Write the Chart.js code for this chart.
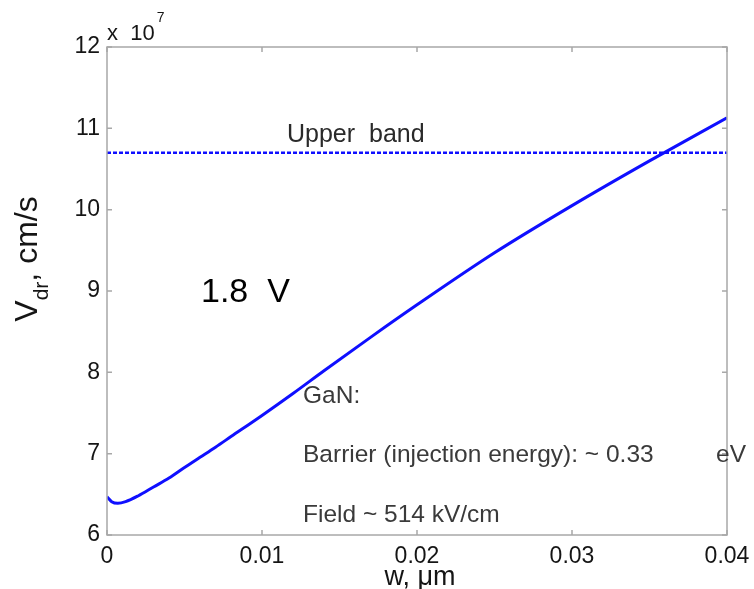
<!DOCTYPE html>
<html>
<head>
<meta charset="utf-8">
<script src="https://cdn.jsdelivr.net/npm/chart.js@4/dist/chart.umd.min.js"></script>
<style>
html,body{margin:0;padding:0;background:#fff;}
#wrap{width:754px;height:589px;position:relative;}
</style>
</head>
<body>
<div id="wrap"><canvas id="c" width="754" height="589"></canvas></div>
<script>
// data (velocity in units of 1e7 cm/s)
const widthUm = [0,0.0003,0.0007,0.0012,0.002,0.003,0.004,0.005,0.006,0.007,0.008,0.010,0.012,0.014,0.017,0.020,0.025,0.030,0.035,0.040];
const vdr = [6.47,6.41,6.39,6.41,6.48,6.59,6.70,6.83,6.955,7.08,7.21,7.47,7.74,8.02,8.43,8.83,9.47,10.05,10.60,11.13];
const upperBand = 10.7;
const bandX = [0,0.04];
const xTickVals = [0,0.01,0.02,0.03,0.04];
const xTickLabels = ["0","0.01","0.02","0.03","0.04"];
const yTickVals = [6,7,8,9,10,11,12];
const yTickLabels = ["6","7","8","9","10","11","12"];

const FONT = "'Liberation Sans', Arial, Helvetica, sans-serif";

const boxPlugin = {
  id:'box',
  afterDraw(chart){
    const {ctx, chartArea:a, scales:{x,y}} = chart;
    ctx.save();
    ctx.strokeStyle = '#a8a8a8';
    ctx.lineWidth = 1.5;
    ctx.strokeRect(a.left, a.top, a.right-a.left, a.bottom-a.top);
    // inward tick marks on all four sides
    ctx.beginPath();
    xTickVals.forEach(v=>{
      const px = x.getPixelForValue(v);
      ctx.moveTo(px,a.bottom); ctx.lineTo(px,a.bottom-5);
      ctx.moveTo(px,a.top); ctx.lineTo(px,a.top+5);
    });
    yTickVals.forEach(v=>{
      const py = y.getPixelForValue(v);
      ctx.moveTo(a.left,py); ctx.lineTo(a.left+5,py);
      ctx.moveTo(a.right,py); ctx.lineTo(a.right-5,py);
    });
    ctx.stroke();

    ctx.fillStyle = '#151515';
    // exponent
    ctx.font = "22px "+FONT;
    ctx.textAlign='left'; ctx.textBaseline='alphabetic';
    ctx.fillText("x  10", a.left, 40);
    const w10 = ctx.measureText("x  10").width;
    ctx.font = "14px "+FONT;
    ctx.fillText("7", a.left+w10+2, 22);

    // y axis title with subscript
    ctx.save();
    ctx.translate(37, 259);
    ctx.rotate(-Math.PI/2);
    const p1 = "V", p2 = "dr", p3 = ", cm/s";
    const big = "32px "+FONT, small = "21px "+FONT;
    ctx.font = big; const w1 = ctx.measureText(p1).width;
    ctx.font = small; const w2 = ctx.measureText(p2).width;
    ctx.font = big; const w3 = ctx.measureText(p3).width;
    let sx = -(w1+w2+w3)/2;
    ctx.textAlign='left'; ctx.textBaseline='alphabetic';
    ctx.font = big; ctx.fillText(p1, sx, 0); sx+=w1;
    ctx.font = small; ctx.fillText(p2, sx, 11); sx+=w2;
    ctx.font = big; ctx.fillText(p3, sx, 0);
    ctx.restore();

    // x axis title (partially cut at bottom)
    ctx.font = "27px "+FONT;
    ctx.textAlign='center'; ctx.textBaseline='alphabetic';
    ctx.fillText("w, \u03bcm", 420, 585);

    // annotations
    ctx.textAlign='left';
    ctx.font = "25px "+FONT;
    ctx.fillStyle = '#2a2a2a';
    ctx.fillText("Upper  band", 287, 142);
    ctx.fillStyle = '#000';
    ctx.font = "34px "+FONT;
    ctx.fillText("1.8  V", 201, 302);
    ctx.fillStyle = '#3a3a3a';
    ctx.font = "24.5px "+FONT;
    ctx.fillText("GaN:", 303, 403);
    ctx.fillText("Barrier (injection energy): ~ 0.33", 303, 462);
    ctx.fillText("eV", 716, 462);
    ctx.fillText("Field ~ 514 kV/cm", 303, 522);
    ctx.restore();
  }
};

new Chart(document.getElementById('c'), {
  type:'line',
  data:{
    datasets:[
      {
        data: widthUm.map((v,i)=>({x:v,y:vdr[i]})),
        borderColor:'rgb(15,15,255)',
        borderWidth:3,
        pointRadius:0,
        cubicInterpolationMode:'monotone',
        fill:false
      },
      {
        data: bandX.map(v=>({x:v,y:upperBand})),
        borderColor:'rgb(15,15,255)',
        borderWidth:2.5,
        borderDash:[4,2],
        pointRadius:0,
        fill:false
      }
    ]
  },
  options:{
    responsive:false,
    animation:false,
    devicePixelRatio:1,
    layout:{padding:{top:47,right:27,left:0,bottom:0}},
    plugins:{legend:{display:false},tooltip:{enabled:false}},
    scales:{
      x:{
        type:'linear',min:0,max:0.04,
        border:{display:false},
        grid:{display:false,drawTicks:false},
        afterBuildTicks(s){ s.ticks = xTickVals.map(v=>({value:v})); },
        afterFit(s){ s.height = 54; s.paddingLeft = 0; s.paddingRight = 0; },
        ticks:{
          padding:8,color:'#151515',
          font:{family:FONT,size:23},
          maxRotation:0,autoSkip:false,
          callback:(v,i)=>xTickLabels[i]
        }
      },
      y:{
        type:'linear',min:6,max:12,
        border:{display:false},
        grid:{display:false,drawTicks:false},
        afterBuildTicks(s){ s.ticks = yTickVals.map(v=>({value:v})); },
        afterFit(s){ s.width = 107; s.paddingTop = 0; s.paddingBottom = 0; },
        ticks:{
          padding:7,color:'#151515',
          font:{family:FONT,size:23},
          autoSkip:false,
          callback:(v,i)=>yTickLabels[i]
        }
      }
    }
  },
  plugins:[boxPlugin]
});
</script>
</body>
</html>
